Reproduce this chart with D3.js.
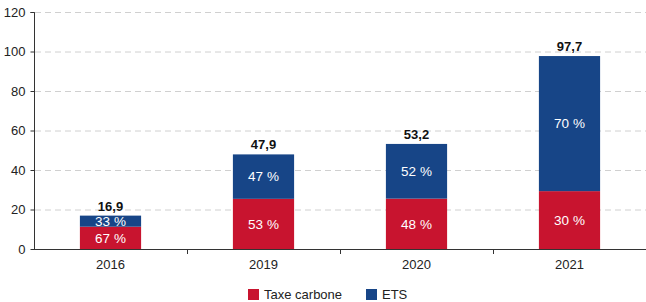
<!DOCTYPE html>
<html><head><meta charset="utf-8">
<script src="https://cdn.jsdelivr.net/npm/d3@7"></script>
<style>
body{margin:0;background:#fff;}
svg{display:block;font-family:"Liberation Sans",Arial,sans-serif;}
</style></head>
<body><svg id="c" width="646" height="302"></svg>
<script>
const categories = ["2016","2019","2020","2021"];
const totals = [16.9, 47.9, 53.2, 97.7];
const taxeCarbone = [11.3, 25.4, 25.5, 29.3];
const ets = [5.6, 22.5, 27.7, 68.4];
const taxeShare = ["67 %","53 %","48 %","30 %"];
const etsShare = ["33 %","47 %","52 %","70 %"];
const totalLabels = ["16,9","47,9","53,2","97,7"];
const yTicks = [0,20,40,60,80,100,120];
const seriesNames = ["Taxe carbone","ETS"];
const colors = ["#c8142f","#174587"];

(function(){
const svg = d3.select("#c");
const mLeft = 34, mRight = 646, mTop = 12, mBottom = 249;
const x = d3.scaleBand().domain(categories).range([mLeft,mRight]).paddingInner(0.6).paddingOuter(0.3);
const xb = d3.scaleBand().domain(categories).range([mLeft,mRight]).padding(0);
const y = d3.scaleLinear().domain([0,120]).range([mBottom,mTop]);

// grid
svg.append("g").selectAll("line").data(yTicks.filter(d=>d>0)).join("line")
  .attr("x1",mLeft+1).attr("x2",mRight).attr("y1",d=>y(d)+0.5).attr("y2",d=>y(d)+0.5)
  .attr("stroke","#d0d0d0").attr("stroke-dasharray","6,4").attr("stroke-width",1);

// stacked bars
const data = categories.map((c,i)=>({c, t:taxeCarbone[i], e:ets[i]}));
const stack = d3.stack().keys(["t","e"])(data);
stack.forEach((s,k)=>{
  svg.append("g").selectAll("rect").data(s).join("rect")
    .attr("x",d=>x(d.data.c)).attr("width",x.bandwidth())
    .attr("y",d=>y(d[1])).attr("height",d=>y(d[0])-y(d[1]))
    .attr("fill",colors[k]);
});
// percent labels
const shares=[taxeShare,etsShare];
stack.forEach((s,k)=>{
  svg.append("g").selectAll("text").data(s).join("text")
    .attr("x",d=>x(d.data.c)+x.bandwidth()/2)
    .attr("y",d=>(y(d[0])+y(d[1]))/2)
    .attr("dy","0.36em").attr("text-anchor","middle")
    .attr("fill","#fff").attr("font-size",13.5)
    .text((d,i)=>shares[k][i]);
});
// totals
svg.append("g").selectAll("text").data(categories).join("text")
  .attr("x",d=>x(d)+x.bandwidth()/2).attr("y",(d,i)=>y(totals[i])-5)
  .attr("text-anchor","middle").attr("font-weight","bold").attr("font-size",13).attr("fill","#111")
  .text((d,i)=>totalLabels[i]);

// y axis
const ya = svg.append("g").attr("transform",`translate(${mLeft+0.5},0)`)
  .call(d3.axisLeft(y).tickValues(yTicks).tickSize(4).tickPadding(5).tickFormat(d3.format("d")));
ya.select(".domain").attr("stroke","#333").attr("d",`M-4,${y(120)+0.5}H0V${mBottom+0.5}`);
ya.selectAll(".tick line").attr("stroke","#333");
ya.selectAll("text").attr("font-size",13).attr("fill","#222").attr("font-family","Liberation Sans, Arial, sans-serif");

// x axis
svg.append("line").attr("x1",mLeft).attr("x2",mRight).attr("y1",mBottom+0.5).attr("y2",mBottom+0.5).attr("stroke","#333");
svg.append("g").selectAll("line").data(categories.slice(1)).join("line")
  .attr("x1",d=>Math.round(xb(d))+0.5).attr("x2",d=>Math.round(xb(d))+0.5)
  .attr("y1",mBottom).attr("y2",mBottom+5).attr("stroke","#333");
svg.append("g").selectAll("text").data(categories).join("text")
  .attr("x",d=>xb(d)+xb.bandwidth()/2).attr("y",mBottom+20)
  .attr("text-anchor","middle").attr("font-size",13).attr("fill","#222").text(d=>d);

// legend
const lg = svg.append("g");
const lx=[248,366];
seriesNames.forEach((n,i)=>{
  lg.append("rect").attr("x",lx[i]).attr("y",289).attr("width",11).attr("height",11).attr("fill",colors[i]);
  lg.append("text").attr("x",lx[i]+16).attr("y",299).attr("font-size",13).attr("fill","#222").text(n);
});
})();
</script></body></html>
